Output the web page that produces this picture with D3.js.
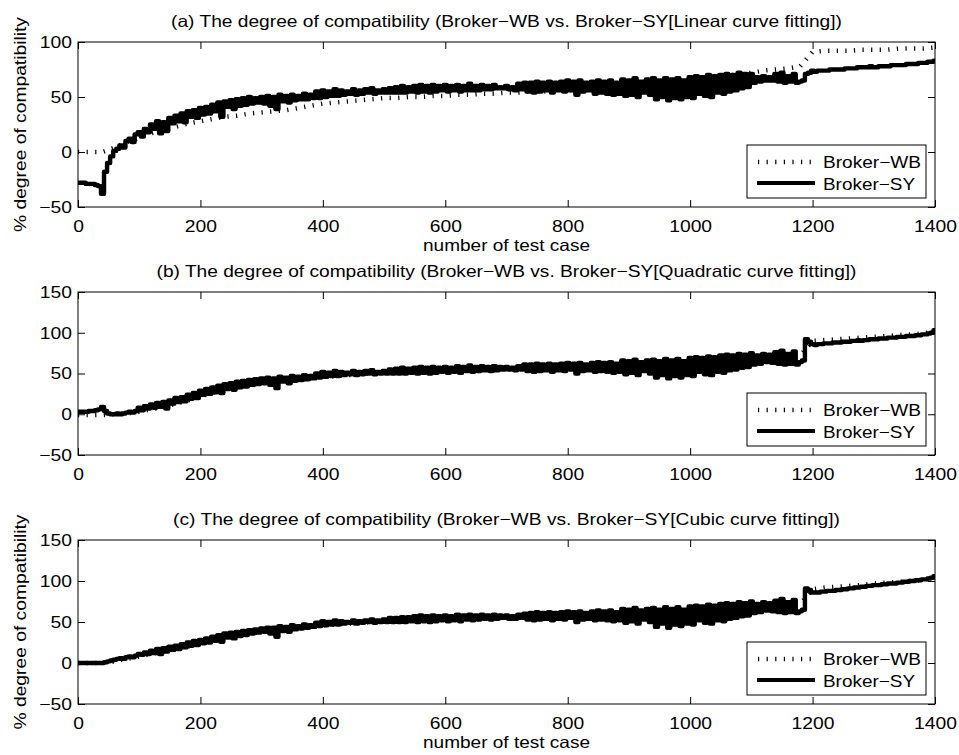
<!DOCTYPE html>
<html><head><meta charset="utf-8">
<script src="https://cdn.jsdelivr.net/npm/d3@7"></script>
<style>
body{margin:0;background:#fff;}
svg text{font-family:"Liberation Sans",Arial,Helvetica,sans-serif;fill:#000;}
</style></head><body>
<svg id="chart" width="959" height="755"></svg>
<script>
// ---------------- DATA ----------------
const syStep = 5;    // Broker-SY sampled every 5 test cases
const wbStep = 20;   // Broker-WB sampled every 20 test cases
const xTicks = [0, 200, 400, 600, 800, 1000, 1200, 1400];
const yTicksA = [-50, 0, 50, 100];
const yTicksBC = [-50, 0, 50, 100, 150];
const titles = [
  "(a) The degree of compatibility (Broker\u2212WB vs. Broker\u2212SY[Linear curve fitting])",
  "(b) The degree of compatibility (Broker\u2212WB vs. Broker\u2212SY[Quadratic curve fitting])",
  "(c) The degree of compatibility (Broker\u2212WB vs. Broker\u2212SY[Cubic curve fitting])"
];
const seriesNames = ["Broker\u2212WB", "Broker\u2212SY"];
const xLabel = "number of test case";
const yLabel = "% degree of compatibility";

// Broker-SY, linear fitting (cases 0..1400 step 5)
const syLinear = [
  -28,-28,-28,-29,-29,-29,-30,-31,-38,-18,-10,-4,1,3,6,4,10,12,9,16,
  18,14,21,18,25,21,28,17,27,19,31,26,33,28,35,27,37,32,38,31,
  40,34,41,35,43,37,45,32,46,41,47,39,48,42,49,43,50,44,49,45,
  50,44,51,42,50,39,52,46,51,45,52,47,51,48,53,48,52,49,55,49,
  56,50,55,51,57,51,56,52,55,53,57,52,56,53,57,54,58,53,56,54,
  57,54,58,54,59,54,60,54,59,55,60,54,61,55,60,54,61,55,60,56,
  61,55,60,56,61,55,60,56,62,56,60,56,61,57,60,57,61,58,59,58,
  60,57,59,56,62,57,63,55,63,54,64,55,63,56,64,54,63,56,64,55,
  65,56,64,52,65,55,63,56,64,53,65,54,64,53,65,52,63,53,66,51,
  65,52,67,50,64,54,66,52,67,48,65,50,67,47,66,49,67,48,65,50,
  68,49,69,53,68,51,70,50,69,54,70,53,71,55,70,56,72,58,71,59,
  71,63,68,64,69,65,68,65,71,64,72,63,69,64,71,63,64,65,71,72,
  74,73,74,74,74,74,75,75,75,75,75,76,76,76,76,77,77,77,77,78,
  77,77,78,78,78,78,79,79,79,79,79,80,80,80,80,81,81,81,82,82,
  83
];
// Broker-SY, quadratic fitting
const syQuadratic = [
  3,3,3,3,4,4,5,6,9,4,1,0,0,1,0,1,2,3,2,4,
  8,5,10,7,12,8,14,9,15,7,17,13,20,15,21,16,24,19,26,20,
  29,24,31,25,33,27,35,26,37,31,38,30,40,33,41,34,42,36,43,37,
  44,38,45,36,44,32,46,40,45,38,47,41,46,42,48,43,47,44,50,45,
  52,46,51,47,53,47,52,48,51,49,53,48,52,49,53,50,54,49,52,50,
  53,50,55,50,56,50,57,50,56,51,57,50,58,51,57,50,58,51,57,52,
  58,51,57,52,59,51,58,53,60,52,58,53,59,54,58,53,59,54,58,55,
  58,55,57,54,59,55,61,53,61,52,62,53,61,54,62,52,61,54,62,53,
  63,55,62,50,63,53,61,54,63,52,64,53,63,52,64,51,62,52,66,49,
  65,51,67,48,64,53,66,50,67,45,65,48,68,44,66,47,68,45,65,48,
  69,47,70,52,69,49,71,48,70,52,72,51,73,54,72,55,74,57,73,58,
  75,61,72,62,74,64,73,63,76,62,78,61,74,62,77,61,64,66,92,89,
  86,85,86,86,87,87,87,88,88,88,89,89,89,90,90,91,90,91,91,92,
  92,92,93,93,93,94,94,94,95,95,95,96,96,96,97,97,98,98,99,100,
  103
];
// Broker-SY, cubic fitting
const syCubic = [
  0,0,0,0,0,0,0,0,0,1,2,3,4,5,6,5,7,8,7,9,
  11,10,13,11,15,12,17,11,18,14,20,16,21,17,23,19,25,21,27,22,
  28,24,30,25,32,27,34,26,36,31,37,30,38,33,39,34,40,36,41,37,
  42,38,43,36,43,32,45,39,44,38,46,41,45,42,47,43,46,44,49,45,
  51,46,50,47,52,47,51,48,50,49,52,48,51,49,52,50,53,49,52,50,
  53,50,55,50,55,50,56,50,56,51,57,50,58,51,57,50,58,51,57,52,
  58,51,57,52,59,51,58,53,59,52,58,53,59,54,58,53,59,54,58,55,
  58,54,57,54,59,55,60,53,61,52,62,53,61,54,62,52,61,54,62,53,
  63,55,62,50,63,53,61,54,63,52,64,53,63,52,64,51,62,52,66,49,
  65,51,67,48,64,53,66,50,67,44,65,48,68,43,66,47,68,45,65,48,
  69,47,70,52,69,49,71,48,70,52,72,51,73,54,72,55,74,57,73,58,
  75,61,72,62,74,64,73,63,76,62,78,61,74,62,77,61,63,65,91,89,
  86,86,86,87,87,88,88,88,89,89,90,90,91,91,92,92,93,93,94,94,
  95,95,95,96,96,97,97,97,98,98,99,99,100,100,101,101,102,102,103,104,
  106
];
// Broker-WB (cases 0..1400 step 20), one per panel
const wbLinear = [
  0,0,0,4,9,13,17,20,23,26,
  28,30,32,33,35,36,37,38,40,42,
  44,45,46,47,48,49,49,50,50,51,
  51,52,52,53,53,54,54,55,55,56,
  56,57,57,58,59,59,60,61,61,62,
  63,65,67,69,71,72,74,75,76,78,
  91,92,92,92,93,93,93,94,94,94,
  95
];
const wbQuadratic = [
  -1,-1,-1,0,1,3,6,9,13,17,
  22,26,30,33,36,38,40,42,43,45,
  46,47,48,49,50,51,52,52,53,53,
  54,54,55,55,56,56,57,57,57,58,
  58,58,59,59,59,60,60,61,61,62,
  62,63,64,65,66,67,68,69,70,72,
  90,91,92,93,94,95,96,97,98,99,
  102
];
const wbCubic = [
  0,0,0,2,5,8,11,14,17,20,
  23,27,30,33,36,38,40,42,43,45,
  46,47,48,49,50,51,52,52,53,53,
  54,54,55,55,56,56,57,57,57,58,
  58,58,59,59,59,60,60,61,61,62,
  62,63,64,65,66,67,68,69,70,72,
  90,92,93,94,95,97,98,99,100,101,
  105
];

// ---------------- LAYOUT ----------------
const panels = [
  {left:78, right:935, top:42,  bottom:207, yDomain:[-50,100], yTicks:yTicksA,  title:titles[0], titleW:671, sy:syLinear,    wb:wbLinear,    xlab:true,  ylab:true},
  {left:78, right:935, top:292, bottom:455, yDomain:[-50,150], yTicks:yTicksBC, title:titles[1], titleW:700, sy:syQuadratic, wb:wbQuadratic, xlab:false, ylab:false},
  {left:78, right:935, top:540, bottom:704, yDomain:[-50,150], yTicks:yTicksBC, title:titles[2], titleW:667, sy:syCubic,     wb:wbCubic,     xlab:true,  ylab:true}
];
const FS = 16.5, SX = 1.17, TICK = 7;
const fmt = d3.format("d");
const svg = d3.select("#chart");

panels.forEach((p, k) => {
  const x = d3.scaleLinear().domain([0, 1400]).range([p.left, p.right]);
  const y = d3.scaleLinear().domain(p.yDomain).range([p.bottom, p.top]);
  const g = svg.append("g");

  g.append("clipPath").attr("id", "clip" + k).append("rect")
    .attr("x", p.left).attr("y", p.top - 3).attr("width", p.right - p.left).attr("height", p.bottom - p.top + 6);

  const wbLine = d3.line().x(d => x(d.c)).y(d => y(d.v));
  const syLine = d3.line().x(d => x(d.c)).y(d => y(d.v)).curve(d3.curveStep);
  const wbData = p.wb.map((v, i) => ({c: i * wbStep, v}));
  const syData = p.sy.map((v, i) => ({c: i * syStep, v}));

  const plot = g.append("g").attr("clip-path", `url(#clip${k})`);
  plot.append("path").datum(wbData).attr("d", wbLine)
    .attr("fill", "none").attr("stroke", "#000").attr("stroke-width", 4.5)
    .attr("stroke-dasharray", "1.2 7.4");
  plot.append("path").datum(syData).attr("d", syLine)
    .attr("fill", "none").attr("stroke", "#000").attr("stroke-width", 4.4)
    .attr("stroke-linejoin", "round");

  // axes
  const fix = sel => { sel.attr("font-size", null).attr("font-family", null); sel.select(".domain").remove(); sel.selectAll("line").attr("stroke", "#000"); };
  const bx = g.append("g").attr("transform", `translate(0,${p.bottom})`)
    .call(d3.axisBottom(x).tickValues(xTicks).tickFormat(fmt).tickSizeInner(-TICK).tickSizeOuter(0).tickPadding(13.3));
  fix(bx);
  bx.selectAll("text").attr("font-size", FS).attr("transform", `scale(${SX},1)`);
  const tx = g.append("g").attr("transform", `translate(0,${p.top})`)
    .call(d3.axisTop(x).tickValues(xTicks).tickSizeInner(-TICK).tickSizeOuter(0).tickFormat(""));
  fix(tx);
  const ly = g.append("g").attr("transform", `translate(${p.left},0)`)
    .call(d3.axisLeft(y).tickValues(p.yTicks).tickFormat(fmt).tickSizeInner(-TICK).tickSizeOuter(0).tickPadding(6));
  fix(ly);
  ly.selectAll("text").attr("font-size", FS).attr("x", -6 / SX).attr("transform", `scale(${SX},1)`);
  const ry = g.append("g").attr("transform", `translate(${p.right},0)`)
    .call(d3.axisRight(y).tickValues(p.yTicks).tickSizeInner(-TICK).tickSizeOuter(0).tickFormat(""));
  fix(ry);

  g.append("rect").attr("x", p.left).attr("y", p.top).attr("width", p.right - p.left).attr("height", p.bottom - p.top)
    .attr("fill", "none").attr("stroke", "#000").attr("stroke-width", 1);

  // title
  g.append("text").attr("x", (p.left + p.right) / 2).attr("y", p.top - 15.5)
    .attr("text-anchor", "middle").attr("font-size", FS)
    .attr("textLength", p.titleW).attr("lengthAdjust", "spacingAndGlyphs").text(p.title);

  if (p.xlab) {
    g.append("text").attr("x", (p.left + p.right) / 2).attr("y", p.bottom + 44)
      .attr("text-anchor", "middle").attr("font-size", FS)
      .attr("textLength", 167).attr("lengthAdjust", "spacingAndGlyphs").text(xLabel);
  }
  if (p.ylab) {
    g.append("text").attr("transform", `translate(26,${(p.top + p.bottom) / 2}) rotate(-90)`)
      .attr("text-anchor", "middle").attr("font-size", FS)
      .attr("textLength", 215).attr("lengthAdjust", "spacingAndGlyphs").text(yLabel);
  }

  // legend
  const lw = 179, lh = 53;
  const lx = p.right - 9 - lw, lyy = p.bottom - 9 - lh;
  const lg = g.append("g");
  lg.append("rect").attr("x", lx).attr("y", lyy).attr("width", lw).attr("height", lh)
    .attr("fill", "#fff").attr("stroke", "#000").attr("stroke-width", 1);
  lg.append("line").attr("x1", lx + 11).attr("x2", lx + 67).attr("y1", lyy + 17).attr("y2", lyy + 17)
    .attr("stroke", "#000").attr("stroke-width", 4.5).attr("stroke-dasharray", "1.2 7.4");
  lg.append("line").attr("x1", lx + 10).attr("x2", lx + 68).attr("y1", lyy + 38).attr("y2", lyy + 38)
    .attr("stroke", "#000").attr("stroke-width", 4);
  lg.append("text").attr("x", lx + 76).attr("y", lyy + 22.5).attr("font-size", FS)
    .attr("textLength", 98).attr("lengthAdjust", "spacingAndGlyphs").text(seriesNames[0]);
  lg.append("text").attr("x", lx + 76).attr("y", lyy + 45).attr("font-size", FS)
    .attr("textLength", 92).attr("lengthAdjust", "spacingAndGlyphs").text(seriesNames[1]);
});
</script>
</body></html>
